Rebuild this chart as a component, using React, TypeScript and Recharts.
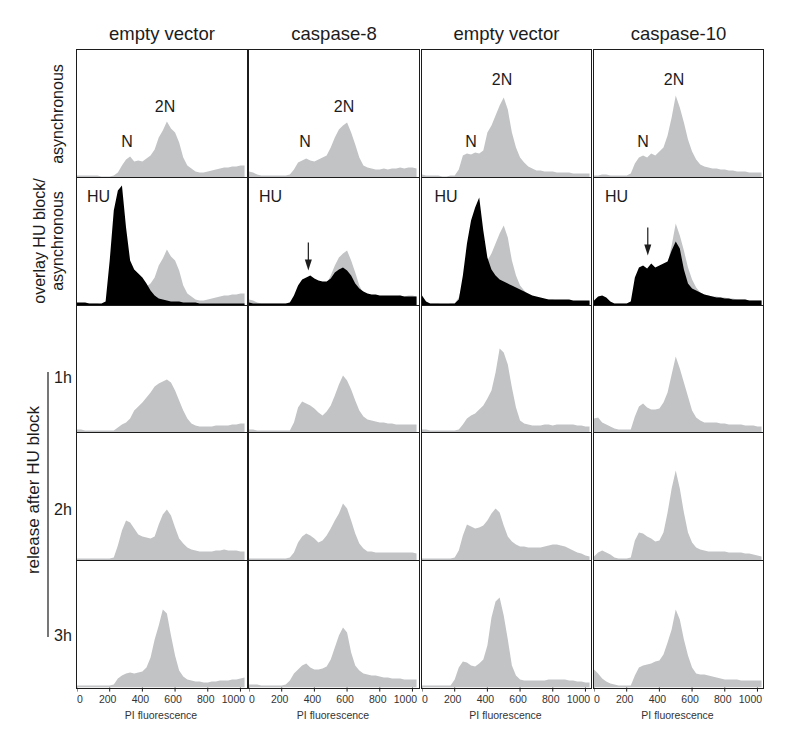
import React from 'react';
import { AreaChart, Area, XAxis, YAxis, ReferenceLine } from 'recharts';

// PI fluorescence channel (bin start), ticks and labels
const X_BINS = [
  0, 25, 50, 75, 100, 125, 150, 175, 200, 225, 250, 275, 300, 325, 350, 375, 400, 425, 450, 475,
  500, 525, 550, 575, 600, 625, 650, 675, 700, 725, 750, 775, 800, 825, 850, 875, 900, 925, 950, 975,
  1000, 1025,
];
const X_TICKS = [0, 200, 400, 600, 800, 1000];
const COLUMNS = ['empty vector', 'caspase-8', 'empty vector', 'caspase-10'];
const TIMES = ['1h', '2h', '3h'];

// asynchronous
const asyncEv1 = [2, 2, 2, 2, 2, 2, 1, 1, 1, 2, 5, 12, 18, 21, 16, 17, 16, 19, 22, 28, 40, 47, 56, 49, 45, 35, 20, 12, 9, 6, 5, 5, 6, 7, 8, 9, 10, 10, 11, 11, 12, 12];
const asyncC8 = [6, 5, 3, 2, 2, 2, 2, 2, 2, 2, 3, 8, 15, 17, 19, 17, 16, 18, 20, 22, 30, 40, 48, 52, 55, 45, 33, 20, 12, 10, 9, 8, 8, 9, 8, 9, 9, 10, 9, 10, 10, 9];
const asyncEv2 = [3, 2, 2, 2, 2, 1, 1, 2, 2, 8, 22, 24, 23, 25, 24, 27, 45, 52, 62, 72, 80, 68, 45, 30, 20, 15, 11, 9, 7, 7, 6, 6, 6, 5, 5, 5, 5, 4, 4, 4, 4, 4];
const asyncC10 = [2, 2, 3, 3, 2, 2, 2, 2, 2, 4, 14, 20, 22, 20, 24, 22, 26, 30, 42, 60, 82, 70, 55, 38, 26, 18, 13, 11, 10, 9, 9, 8, 8, 7, 7, 6, 6, 6, 5, 5, 5, 5];

// HU block (black overlay)
const huEv1 = [3, 3, 3, 2, 2, 2, 2, 4, 45, 95, 115, 120, 78, 45, 36, 32, 28, 22, 15, 10, 7, 6, 5, 4, 4, 4, 3, 3, 3, 3, 2, 2, 2, 2, 2, 2, 2, 2, 2, 2, 2, 2];
const huC8 = [3, 2, 2, 2, 2, 2, 2, 2, 2, 2, 3, 10, 20, 26, 28, 30, 27, 25, 24, 24, 27, 33, 36, 38, 35, 30, 22, 17, 14, 12, 11, 11, 10, 10, 10, 10, 10, 10, 9, 9, 9, 9];
const huEv2 = [10, 4, 2, 2, 2, 2, 2, 2, 2, 6, 30, 62, 85, 98, 108, 75, 48, 36, 30, 26, 24, 22, 20, 18, 16, 14, 12, 10, 9, 8, 7, 6, 6, 6, 6, 6, 6, 5, 5, 5, 5, 5];
const huC10 = [5, 9, 10, 8, 4, 2, 2, 2, 2, 4, 28, 38, 40, 37, 42, 38, 40, 42, 44, 55, 64, 57, 36, 22, 17, 15, 13, 11, 10, 9, 8, 8, 7, 7, 6, 6, 6, 6, 5, 5, 5, 5];

// release after HU block
const h1Ev1 = [3, 3, 2, 2, 2, 2, 2, 2, 2, 2, 5, 8, 10, 14, 22, 26, 30, 35, 40, 46, 49, 51, 53, 50, 42, 32, 22, 14, 9, 7, 6, 6, 6, 6, 7, 7, 7, 7, 8, 8, 9, 9];
const h1C8 = [3, 3, 2, 2, 2, 2, 2, 2, 2, 2, 2, 10, 25, 31, 29, 27, 24, 20, 17, 21, 27, 37, 48, 57, 52, 43, 32, 22, 16, 13, 12, 11, 10, 10, 9, 9, 8, 8, 8, 8, 8, 8];
const h1Ev2 = [3, 3, 2, 2, 2, 2, 2, 2, 2, 3, 8, 14, 17, 19, 23, 27, 34, 42, 60, 84, 80, 68, 45, 25, 12, 9, 8, 7, 7, 7, 8, 8, 7, 8, 8, 8, 8, 8, 7, 7, 6, 6];
const h1C10 = [14, 15, 10, 8, 6, 4, 3, 3, 3, 3, 16, 26, 29, 25, 23, 23, 24, 30, 40, 58, 76, 64, 50, 36, 22, 15, 12, 10, 10, 10, 10, 9, 9, 8, 8, 8, 8, 7, 7, 7, 6, 6];

const h2Ev1 = [2, 2, 2, 2, 2, 2, 2, 2, 2, 3, 15, 30, 40, 38, 32, 26, 24, 23, 22, 24, 36, 46, 51, 45, 33, 22, 17, 13, 11, 10, 9, 9, 9, 9, 10, 10, 11, 10, 10, 10, 9, 9];
const h2C8 = [2, 2, 2, 2, 2, 2, 2, 2, 2, 2, 3, 8, 18, 24, 27, 25, 22, 18, 20, 25, 32, 40, 47, 57, 52, 40, 27, 17, 12, 9, 9, 8, 8, 8, 8, 8, 8, 8, 8, 8, 8, 7];
const h2Ev2 = [2, 2, 2, 2, 2, 2, 2, 2, 3, 10, 25, 36, 34, 32, 33, 35, 40, 47, 52, 48, 35, 24, 19, 16, 14, 14, 13, 13, 13, 13, 14, 15, 16, 16, 15, 14, 12, 10, 8, 7, 5, 4];
const h2C10 = [4, 8, 10, 8, 6, 3, 2, 2, 2, 3, 20, 28, 27, 24, 22, 19, 20, 28, 48, 72, 90, 72, 48, 28, 18, 13, 11, 10, 9, 9, 9, 9, 9, 8, 8, 8, 8, 7, 7, 6, 5, 4];

const h3Ev1 = [2, 2, 2, 2, 2, 2, 2, 2, 2, 3, 9, 12, 14, 15, 14, 15, 16, 20, 30, 48, 62, 78, 74, 52, 32, 17, 11, 8, 7, 6, 6, 5, 5, 6, 6, 7, 7, 7, 8, 8, 9, 10];
const h3C8 = [3, 3, 3, 2, 2, 2, 2, 2, 2, 3, 7, 14, 18, 22, 24, 20, 18, 18, 19, 21, 28, 40, 52, 60, 55, 35, 22, 17, 14, 13, 12, 12, 11, 10, 10, 9, 9, 9, 8, 8, 8, 8];
const h3Ev2 = [2, 2, 2, 2, 2, 2, 2, 2, 8, 20, 26, 25, 22, 21, 24, 28, 42, 70, 86, 90, 72, 48, 22, 12, 8, 7, 7, 7, 7, 7, 7, 8, 8, 8, 8, 8, 7, 7, 6, 6, 5, 5];
const h3C10 = [18, 14, 9, 6, 4, 3, 2, 2, 2, 2, 12, 20, 22, 23, 24, 26, 27, 33, 45, 58, 78, 68, 48, 32, 20, 14, 13, 13, 12, 11, 10, 9, 8, 8, 8, 8, 7, 7, 7, 7, 7, 7];

const GRAY = '#c1c3c5';
const INK = '#1c1c1c';
const FONT = '"Liberation Sans", Arial, Helvetica, sans-serif';

const COL_LEFT = [77, 249, 421.5, 593.5];
const ROW_TOP = [50, 177.6, 305.2, 432.8, 560.4];
const PANEL_W = 170;
const PANEL_H = 127.6;
const X_MAX = 1040;

const ROWS = [
  { gray: [asyncEv1, asyncC8, asyncEv2, asyncC10] },
  { gray: [asyncEv1, asyncC8, asyncEv2, asyncC10], black: [huEv1, huC8, huEv2, huC10] },
  { gray: [h1Ev1, h1C8, h1Ev2, h1C10] },
  { gray: [h2Ev1, h2C8, h2Ev2, h2C10] },
  { gray: [h3Ev1, h3C8, h3Ev2, h3C10] },
];

// arrows in the HU row (x in PI units, y in counts)
const ARROWS: Record<number, { x: number; from: number; to: number }> = {
  1: { x: 363, from: 63, to: 35 },
  3: { x: 329, from: 78, to: 50 },
};

const tickShift = (v: number) => (v === 0 ? 3 : v === 1000 ? -7 : -2);

const BottomTick = (props: any) => {
  const { x, y, payload } = props;
  return (
    <text
      x={x + tickShift(payload.value)}
      y={y}
      dy="0.71em"
      textAnchor="middle"
      fontSize={10.5}
      fontFamily={FONT}
      fill="#333"
    >
      {payload.value}
    </text>
  );
};

const ArrowShape = (props: any) => {
  const { x1, y1, x2, y2 } = props;
  const head = 11;
  return (
    <g>
      <line x1={x1} y1={y1} x2={x2} y2={y2 - head + 1} stroke={INK} strokeWidth={1.2} />
      <polygon points={`${x2 - 3.5},${y2 - head} ${x2 + 3.5},${y2 - head} ${x2},${y2}`} fill={INK} />
    </g>
  );
};

function Panel({ row, col }: { row: number; col: number }) {
  const spec = ROWS[row];
  const grayVals = spec.gray[col];
  const blackVals = spec.black ? spec.black[col] : null;
  const data = X_BINS.map((x, i) => ({ x, gray: grayVals[i], black: blackVals ? blackVals[i] : null }));
  const last = row === ROWS.length - 1;
  const axisH = last ? 36 : 5;
  const arrow = row === 1 ? ARROWS[col] : undefined;

  return (
    <div style={{ position: 'absolute', left: COL_LEFT[col], top: ROW_TOP[row] }}>
      <AreaChart width={PANEL_W} height={PANEL_H + axisH} data={data} margin={{ top: 0, right: 0, bottom: 0, left: 0 }}>
        <XAxis
          dataKey="x"
          type="number"
          domain={[0, X_MAX]}
          ticks={X_TICKS}
          interval={0}
          height={axisH}
          axisLine={false}
          tickLine={{ stroke: INK, strokeWidth: 1 }}
          tickSize={4}
          tickMargin={4}
          tick={last ? BottomTick : false}
          allowDataOverflow
        />
        <YAxis hide domain={[0, PANEL_H]} allowDataOverflow />
        <Area dataKey="gray" type="linear" fill={GRAY} fillOpacity={1} stroke="none" isAnimationActive={false} />
        {blackVals && (
          <Area dataKey="black" type="linear" fill="#000" fillOpacity={1} stroke="none" isAnimationActive={false} />
        )}
        {arrow && (
          <ReferenceLine
            segment={[
              { x: arrow.x, y: arrow.from },
              { x: arrow.x, y: arrow.to },
            ]}
            stroke={INK}
            shape={ArrowShape}
          />
        )}
      </AreaChart>
    </div>
  );
}

export default function App() {
  const txt = { fontFamily: FONT, fill: INK } as const;
  return (
    <div style={{ position: 'absolute', left: 0, top: 0, width: 792, height: 752, background: '#fff', overflow: 'hidden' }}>
      {ROWS.map((_, r) => COLUMNS.map((_c, c) => <Panel key={`p${r}-${c}`} row={r} col={c} />))}
      {ROWS.map((_, r) =>
        COLUMNS.map((_c, c) => (
          <div
            key={`f${r}-${c}`}
            style={{
              position: 'absolute',
              left: COL_LEFT[c] - 0.6,
              top: ROW_TOP[r] - 0.6,
              width: PANEL_W + 1.2,
              height: PANEL_H + 1.2,
              border: `1.2px solid ${INK}`,
              boxSizing: 'border-box',
            }}
          />
        ))
      )}
      <svg width={792} height={752} style={{ position: 'absolute', left: 0, top: 0 }}>
        {COLUMNS.map((name, c) => (
          <text key={`h${c}`} x={COL_LEFT[c] + PANEL_W / 2} y={40} textAnchor="middle" fontSize={18.5} {...txt}>
            {name}
          </text>
        ))}
        {COLUMNS.map((_c, c) => (
          <text key={`pi${c}`} x={COL_LEFT[c] + PANEL_W / 2 - 1} y={719} textAnchor="middle" fontSize={10.5} {...txt} fill="#333">
            PI fluorescence
          </text>
        ))}
        <text transform="translate(59,114) rotate(-90)" y={4} textAnchor="middle" fontSize={16} {...txt}>
          asynchronous
        </text>
        <text transform="translate(41,241) rotate(-90)" y={4} textAnchor="middle" fontSize={16} {...txt}>
          overlay HU block/
        </text>
        <text transform="translate(59,241) rotate(-90)" y={4} textAnchor="middle" fontSize={16} {...txt}>
          asynchronous
        </text>
        <text transform="translate(35,490) rotate(-90)" y={4} textAnchor="middle" fontSize={17} {...txt}>
          release after HU block
        </text>
        <line x1={48} y1={372} x2={48} y2={637} stroke={INK} strokeWidth={1.2} />
        {TIMES.map((t, i) => (
          <text key={t} x={63} y={[383, 515, 641][i]} textAnchor="middle" fontSize={16} {...txt}>
            {t}
          </text>
        ))}
        {[127, 305, 471, 643].map((x, c) => (
          <text key={`n${c}`} x={x} y={146.7} textAnchor="middle" fontSize={16} {...txt}>
            N
          </text>
        ))}
        {[165, 344, 502, 674].map((x, c) => (
          <text key={`2n${c}`} x={x} y={c < 2 ? 111.7 : 84.7} textAnchor="middle" fontSize={16} {...txt}>
            2N
          </text>
        ))}
        {[98.5, 270.5, 446, 616.5].map((x, c) => (
          <text key={`hu${c}`} x={x} y={201.7} textAnchor="middle" fontSize={16} {...txt}>
            HU
          </text>
        ))}
      </svg>
    </div>
  );
}
